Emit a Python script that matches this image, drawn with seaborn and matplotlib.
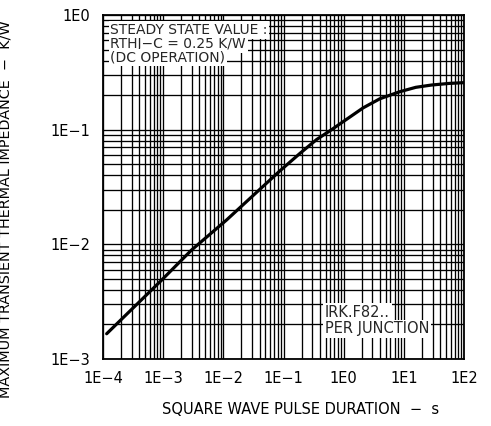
import numpy as np
import pandas as pd
import seaborn as sns
import matplotlib
matplotlib.use("Agg")
import matplotlib.pyplot as plt
from matplotlib.ticker import LogLocator, FixedLocator, FixedFormatter, NullFormatter

# Transient thermal impedance curve, junction to case
pulse_duration_s = [1.15e-4, 8.9e-4, 2.95e-3, 1.13e-2, 8.7e-2, 0.187, 0.355,
                    0.63, 2.11, 4.0, 8.5, 15.8, 28.8, 56.0, 100.0]
impedance_kw = [1.66e-3, 4.73e-3, 8.9e-3, 1.63e-2, 4.37e-2, 6.2e-2, 8.2e-2,
                0.100, 0.155, 0.186, 0.214, 0.234, 0.245, 0.253, 0.257]

x_ticks = [1e-4, 1e-3, 1e-2, 1e-1, 1e0, 1e1, 1e2]
x_tick_labels = ["1E−4", "1E−3", "1E−2", "1E−1", "1E0", "1E1", "1E2"]
y_ticks = [1e-3, 1e-2, 1e-1, 1e0]
y_tick_labels = ["1E−3", "1E−2", "1E−1", "1E0"]

note_top = ["STEADY STATE VALUE :", "RTHJ−C = 0.25 K/W", "(DC OPERATION)"]
note_bottom = ["IRK.F82..", "PER JUNCTION"]

sns.set_style("white")
plt.rcParams["font.family"] = ["DejaVu Sans"]

fig = plt.figure(figsize=(4.91, 4.26), dpi=100)
ax = fig.add_axes([0.2098, 0.1573, 0.7352, 0.8075])

df = pd.DataFrame({"t": pulse_duration_s, "z": impedance_kw})
sns.lineplot(data=df, x="t", y="z", ax=ax, color="black", linewidth=2.3,
             zorder=4, estimator=None, sort=False)

ax.set_xscale("log")
ax.set_yscale("log")
ax.set_xlim(1e-4, 1e2)
ax.set_ylim(1e-3, 1e0)

ax.xaxis.set_major_locator(FixedLocator(x_ticks))
ax.xaxis.set_major_formatter(FixedFormatter(x_tick_labels))
ax.yaxis.set_major_locator(FixedLocator(y_ticks))
ax.yaxis.set_major_formatter(FixedFormatter(y_tick_labels))
for axis in (ax.xaxis, ax.yaxis):
    axis.set_minor_locator(LogLocator(base=10, subs=np.arange(2, 10), numticks=100))
    axis.set_minor_formatter(NullFormatter())

ax.grid(True, which="both", color="black", linewidth=0.95)
ax.tick_params(which="both", length=0)
ax.tick_params(axis="x", pad=9, labelsize=10.5, colors="black")
ax.tick_params(axis="y", pad=9, labelsize=10.5, colors="black")
for sp in ax.spines.values():
    sp.set_color("black")
    sp.set_linewidth(1.3)

ax.set_xlabel("SQUARE WAVE PULSE DURATION  −  s", fontsize=10.5, color="black")
ax.set_ylabel("MAXIMUM TRANSIENT THERMAL IMPEDANCE  −  K/W", fontsize=10.4,
              color="black")
ax.xaxis.set_label_coords(0.546, -0.125)
ax.yaxis.set_label_coords(-0.25, 0.436)

box = dict(facecolor="white", edgecolor="none", pad=1.2)
for i, line in enumerate(note_top):
    ax.text(0.02, 0.956 - i * 0.04, line, transform=ax.transAxes,
            fontsize=10, va="center", ha="left", bbox=box, zorder=5)
for i, line in enumerate(note_bottom):
    ax.text(0.615, 0.135 - i * 0.047, line, transform=ax.transAxes,
            fontsize=10.5, va="center", ha="left", bbox=box, zorder=5)

fig.savefig("out.png", dpi=100)
